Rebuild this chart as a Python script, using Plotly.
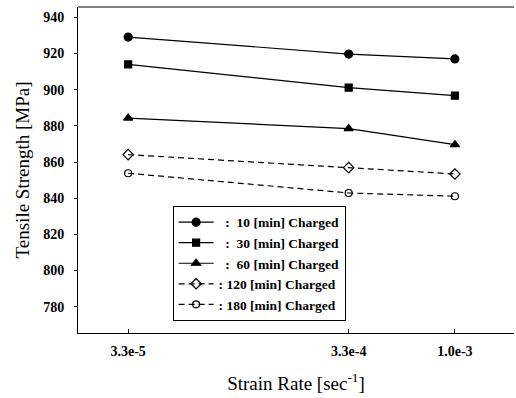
import plotly.graph_objects as go

strain_rate = [3.3e-5, 3.3e-4, 1.0e-3]
tick_labels = ["3.3e-5", "3.3e-4", "1.0e-3"]
s10 = [929.1, 919.7, 917.0]
s30 = [914.0, 901.1, 896.7]
s60 = [884.3, 878.5, 869.6]
s120 = [864.1, 856.9, 853.4]
s180 = [853.8, 842.9, 841.1]

names = ["\u2007:\u00a0\u00a010 [min] Charged", "\u2007:\u00a0\u00a030 [min] Charged",
         "\u2007:\u00a0\u00a060 [min] Charged", ":\u00a0120 [min] Charged", ":\u00a0180 [min] Charged"]
series = [s10, s30, s60, s120, s180]
symbols = ["circle", "square", "triangle-up", "diamond-open", "circle-open"]
sizes = [8, 7, 8, 8, 7]
dashes = ["solid", "solid", "solid", "6px,4px", "6px,4px"]

fig = go.Figure()
for nm, ys, sym, sz, ds in zip(names, series, symbols, sizes, dashes):
    fig.add_trace(go.Scatter(
        x=strain_rate, y=ys, name=nm, mode="lines+markers",
        line=dict(color="black", width=1.2, dash=ds),
        marker=dict(symbol=sym, size=sz, color="black", line=dict(color="black", width=1.2)),
    ))

serif = "Liberation Serif, Times New Roman, serif"
fig.update_layout(
    width=516, height=398, autosize=False,
    margin=dict(l=78, r=2, t=7, b=65),
    paper_bgcolor="white", plot_bgcolor="white",
    font=dict(family=serif, color="black"),
    showlegend=True,
    legend=dict(x=0.217, y=0.39, xanchor="left", yanchor="top",
                bordercolor="black", borderwidth=1, bgcolor="white",
                font=dict(family=serif, size=13.5, color="black", weight="bold"),
                tracegroupgap=0, itemwidth=35),
    xaxis=dict(type="log", range=[-4.7088, -2.732],
               tickvals=strain_rate, ticktext=tick_labels,
               ticks="inside", ticklen=4, tickcolor="black", ticklabelstandoff=5,
               showline=True, linecolor="black", linewidth=1, mirror=False,
               showgrid=False, zeroline=False,
               tickfont=dict(family=serif, size=14, color="black", weight="bold"),
               title=dict(text="Strain Rate [sec<sup>-1</sup>]", font=dict(family=serif, size=19), standoff=18)),
    yaxis=dict(range=[765.5, 945.7], tickvals=[780, 800, 820, 840, 860, 880, 900, 920, 940],
               ticks="outside", ticklen=3, tickcolor="black", ticklabelstandoff=7,
               showline=True, linecolor="black", linewidth=1, mirror=False,
               showgrid=False, zeroline=False,
               tickfont=dict(family=serif, size=14, color="black", weight="bold"),
               title=dict(text="Tensile Strength [MPa]", font=dict(family=serif, size=19), standoff=8)),
    shapes=[dict(type="line", xref="paper", yref="paper", x0=0, x1=1, y0=1, y1=1,
                 line=dict(color="black", width=1))],
)
fig.write_html("out.html")
